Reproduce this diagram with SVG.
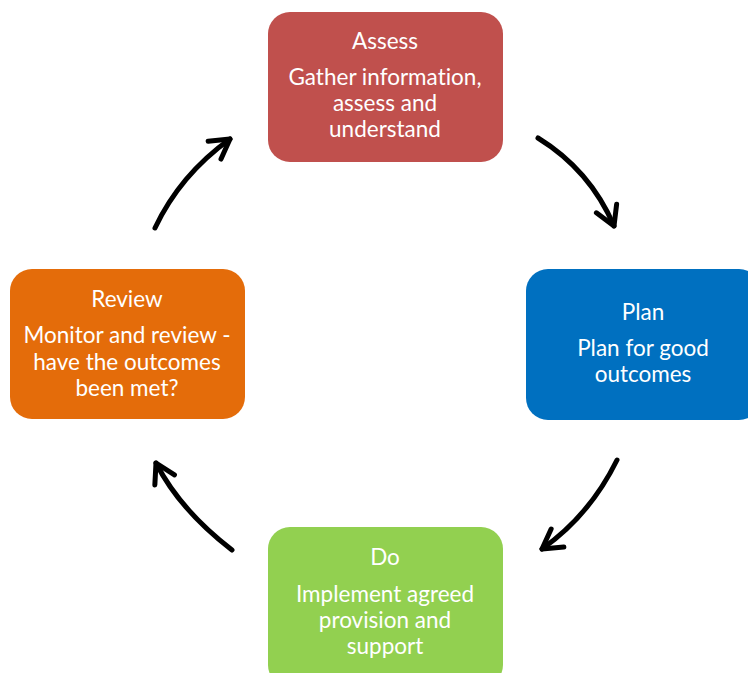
<svg xmlns="http://www.w3.org/2000/svg" width="748" height="673" viewBox="0 0 748 673">
<style>
.box{stroke:none}
.t{font-family:Lato,"Open Sans","Liberation Sans",sans-serif;font-size:22.5px;fill:#ffffff;text-anchor:middle;font-variant-ligatures:none}
.arr{fill:none;stroke:#000;stroke-width:5;stroke-linecap:round;marker-end:url(#head)}
</style>
<defs>
<marker id="head" markerUnits="userSpaceOnUse" viewBox="-25 -20 30 40" markerWidth="30" markerHeight="40" refX="0" refY="0" orient="auto" overflow="visible">
<path d="M-19,-11 L0,0 L-19,11" fill="none" stroke="#000" stroke-width="5" stroke-linecap="round" stroke-linejoin="round"/>
</marker>
</defs>
<rect width="748" height="673" fill="#ffffff"/>
<g id="assess">
<rect class="box" x="268" y="12" width="235" height="150" rx="22" fill="#C0504D"/>
<text class="t" x="385" y="49">Assess</text>
<text class="t" x="385" y="85">Gather information,</text>
<text class="t" x="385" y="111">assess and</text>
<text class="t" x="385" y="137">understand</text>
</g>
<g id="plan">
<rect class="box" x="526" y="269" width="235" height="151" rx="22" fill="#0070C0"/>
<text class="t" x="643" y="320">Plan</text>
<text class="t" x="643" y="356">Plan for good</text>
<text class="t" x="643" y="382">outcomes</text>
</g>
<g id="do">
<rect class="box" x="268" y="527" width="235" height="160" rx="22" fill="#92D050"/>
<text class="t" x="385" y="565">Do</text>
<text class="t" x="385" y="602">Implement agreed</text>
<text class="t" x="385" y="628">provision and</text>
<text class="t" x="385" y="654">support</text>
</g>
<g id="review">
<rect class="box" x="10" y="269" width="235" height="150" rx="22" fill="#E46C0A"/>
<text class="t" x="127" y="307">Review</text>
<text class="t" x="127" y="343">Monitor and review -</text>
<text class="t" x="127" y="370">have the outcomes</text>
<text class="t" x="127" y="396">been met?</text>
</g>
<g id="connectors">
<path class="arr" d="M538,138 Q590,170 614,226"/>
<path class="arr" d="M617,460 Q590,515 542,549"/>
<path class="arr" d="M232,550 Q180,510 156,463"/>
<path class="arr" d="M155,228 Q180,175 230,139"/>
</g>
</svg>
